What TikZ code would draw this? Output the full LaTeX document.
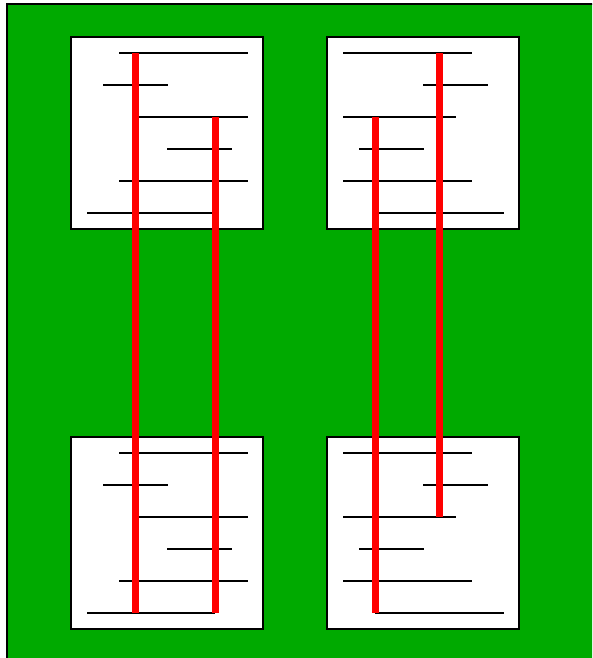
\documentclass[tikz,border=0pt]{standalone}
\definecolor{bggreen}{HTML}{00AA00}
\definecolor{wirered}{HTML}{FF0000}
\tikzset{
  panel/.style={draw=black, fill=white, line width=1.5pt},
  rung/.style={draw=black, line width=1.4pt},
  wire/.style={draw=wirered, line width=7pt},
}
\begin{document}
\begin{tikzpicture}[x=1pt,y=-1pt]
\useasboundingbox (0,0) rectangle (592,658);
\fill[white] (0,0) rectangle (592,658);
\clip (0,0) rectangle (592,658);
\draw[fill=bggreen, line width=1.5pt] (7,4) rectangle (610,680);
% panels
\foreach \dy in {0,400} {
  \path[panel] (71,37+\dy) rectangle (263,229+\dy);
  \path[panel] (327,37+\dy) rectangle (519,229+\dy);
  % left panel rungs
  \path[rung] (119,53+\dy) -- (248,53+\dy);
  \path[rung] (103,85+\dy) -- (168,85+\dy);
  \path[rung] (139,117+\dy) -- (248,117+\dy);
  \path[rung] (167,149+\dy) -- (232,149+\dy);
  \path[rung] (119,181+\dy) -- (248,181+\dy);
  \path[rung] (87,213+\dy) -- (215,213+\dy);
  % right panel rungs
  \path[rung] (343,53+\dy) -- (472,53+\dy);
  \path[rung] (423,85+\dy) -- (488,85+\dy);
  \path[rung] (343,117+\dy) -- (456,117+\dy);
  \path[rung] (359,149+\dy) -- (424,149+\dy);
  \path[rung] (343,181+\dy) -- (472,181+\dy);
  \path[rung] (375,213+\dy) -- (504,213+\dy);
}
% red wires
\coordinate (a1) at (135,53);  \coordinate (a2) at (135,613);
\coordinate (b1) at (215,117); \coordinate (b2) at (215,613);
\coordinate (c1) at (375,117); \coordinate (c2) at (375,613);
\coordinate (d1) at (439,53);  \coordinate (d2) at (439,517);
\path[wire] (a1) -- (a2);
\path[wire] (b1) -- (b2);
\path[wire] (c1) -- (c2);
\path[wire] (d1) -- (d2);
\end{tikzpicture}
\end{document}
